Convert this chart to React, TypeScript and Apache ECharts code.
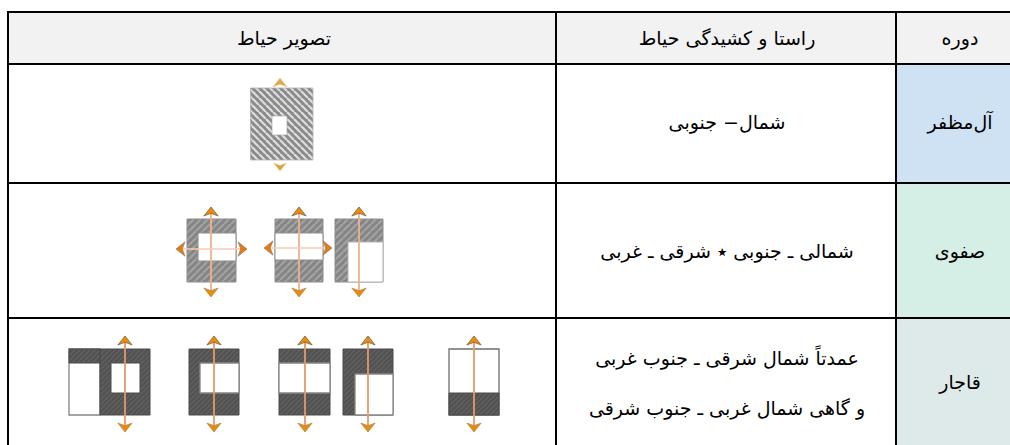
import React, { useEffect, useRef } from "react";
import * as echarts from "echarts";

const headers = ["تصویر حیاط", "راستا و کشیدگی حیاط", "دوره"];
const periods = ["آل‌مظفر", "صفوی", "قاجار"];
const orientations = [
  ["شمال− جنوبی"],
  ["شمالی ـ جنوبی ٭ شرقی ـ غربی"],
  ["عمدتاً شمال شرقی ـ جنوب غربی", "و گاهی شمال غربی ـ جنوب شرقی"],
];
const periodFills = ["#cfe2f3", "#d5eee6", "#deeaea"];

const FONT = '"DejaVu Sans", sans-serif';
const FONT_SIZE = 19;
const colX = [8, 556, 896, 1010];
const rowY = [12, 64, 183, 318, 445];

type Box = [number, number, number, number]; // x0,y0,x1,y1

function tile(base: string, stripe: string, period: number, width: number, flip: boolean) {
  const c = document.createElement("canvas");
  c.width = period;
  c.height = period;
  const g = c.getContext("2d")!;
  g.fillStyle = base;
  g.fillRect(0, 0, period, period);
  g.strokeStyle = stripe;
  g.lineWidth = width;
  for (let k = -1; k <= 1; k++) {
    g.beginPath();
    if (flip) {
      g.moveTo(k * period, 0);
      g.lineTo(k * period + period, period);
    } else {
      g.moveTo(k * period + period, 0);
      g.lineTo(k * period, period);
    }
    g.stroke();
  }
  return { image: c, repeat: "repeat" };
}

function rect(b: Box, fill: any, stroke?: string, lw = 0) {
  return {
    type: "rect",
    shape: { x: b[0], y: b[1], width: b[2] - b[0], height: b[3] - b[1] },
    style: { fill, stroke: stroke || "none", lineWidth: lw },
    silent: true,
  };
}

function head(x: number, y: number, dx: number, dy: number, color: string, edge: string, size: number, w = 0.8) {
  // tip at (x,y), pointing in direction (dx,dy)
  const nx = -dy;
  const ny = dx;
  const half = size * w;
  return {
    type: "polygon",
    shape: {
      points: [
        [x, y],
        [x - dx * size + nx * half, y - dy * size + ny * half],
        [x - dx * size * 0.7, y - dy * size * 0.7],
        [x - dx * size - nx * half, y - dy * size - ny * half],
      ],
    },
    style: { fill: color, stroke: edge, lineWidth: 0.7 },
    silent: true,
  };
}

function shaft(x1: number, y1: number, x2: number, y2: number, color: string, lw: number) {
  return {
    type: "line",
    shape: { x1, y1, x2, y2 },
    style: { stroke: color, lineWidth: lw },
    silent: true,
  };
}

function vArrow(x: number, y1: number, y2: number, shaftColor = "#e5986a") {
  return [
    shaft(x, y1 + 4, x, y2 - 4, shaftColor, 1.8),
    head(x, y1, 0, -1, "#ee8a05", "#5d5a52", 9),
    head(x, y2, 0, 1, "#ee8a05", "#a08a60", 9),
  ];
}

function hArrow(y: number, x1: number, x2: number) {
  return [
    shaft(x1 + 4, y, x2 - 4, y, "#f7cdb0", 1.6),
    head(x1, y, -1, 0, "#ea7a0a", "#8a8078", 9),
    head(x2, y, 1, 0, "#ea7a0a", "#8a8078", 9),
  ];
}

function buildGraphic() {
  const els: any[] = [];
  const add = (...xs: any[]) => els.push(...xs);

  // backgrounds
  add(rect([colX[0], rowY[0], colX[3], rowY[1]], "#f2f2f2"));
  periodFills.forEach((f, i) => add(rect([colX[2], rowY[i + 1], colX[3], rowY[i + 2]], f)));

  // row 1 diagram
  const light = tile("#8a8a8a", "#dedede", 7, 2.2, true);
  add(rect([250.5, 88, 313, 160], light, "#b0b0b0", 0.8));
  add(rect([272, 116, 287, 135], "#ffffff", "#a0a0a0", 0.6));
  add(head(280, 78, 0, -1, "#e0a84a", "#ead6a8", 9));
  add(head(280, 171, 0, 1, "#dfa030", "#ead6a8", 8));

  // row 2
  const mid = tile("#858585", "#a4a4a4", 7, 2, false);
  const GR = "#8c8c8c";
  add(rect([187, 219, 236, 282], mid, GR, 1));
  add(rect([198, 233, 236, 261], "#ffffff", GR, 1));
  add(...vArrow(211, 207, 297, "#f0b18c"), ...hArrow(249, 176, 247));
  add(rect([275, 219, 323, 282], mid, GR, 1));
  add(rect([275, 233, 323, 260], "#ffffff", GR, 1));
  add(...vArrow(299, 207, 297, "#f0b18c"), ...hArrow(248, 264, 332));
  add(rect([335, 219, 383, 282], mid, GR, 1));
  add(rect([348, 242, 383, 282], "#ffffff", "#b5b5b5", 1));
  add(...vArrow(359, 207, 297, "#f0b18c"));

  // row 3
  const dark = tile("#525252", "#656565", 5, 1.2, false);
  const DK = "#4a4a4a";
  const EDGE = "#858585";
  // a
  add(rect([69, 349, 100, 415], "#ffffff", EDGE, 1.3));
  add(rect([69, 349, 100, 363], dark, DK, 1));
  add(rect([100, 349, 150, 415], dark, DK, 1));
  add(rect([111, 363, 140, 393], "#ffffff", DK, 1));
  add(...vArrow(125, 336, 432));
  // b
  add(rect([189, 349, 239, 415], dark, DK, 1));
  add(rect([200, 363, 239, 393], "#ffffff", EDGE, 1.3));
  add(...vArrow(214, 336, 432));
  // c
  add(rect([279, 349, 330, 415], dark, DK, 1));
  add(rect([279, 363, 330, 393], "#ffffff", EDGE, 1.3));
  add(...vArrow(305, 336, 432));
  // d
  add(rect([343, 349, 393, 415], dark, DK, 1));
  add(rect([355, 374, 393, 415], "#ffffff", EDGE, 1.3));
  add(...vArrow(368, 336, 432));
  // e
  add(rect([449, 349, 499, 415], "#ffffff", "#6e6e6e", 1.3));
  add(rect([449, 393, 499, 415], dark, DK, 1));
  add(...vArrow(474, 336, 432));

  // grid lines
  const LINE = "#000000";
  rowY.slice(0, 4).forEach((y) => add(shaft(colX[0] - 1, y, colX[3], y, LINE, 2)));
  colX.slice(0, 3).forEach((x) => add(shaft(x, rowY[0] - 1, x, rowY[4], LINE, 2)));

  // texts
  const text = (x: number, y: number, t: string) => ({
    type: "text",
    x,
    y,
    silent: true,
    style: {
      text: t,
      fill: "#000000",
      font: `${FONT_SIZE}px ${FONT}`,
      align: "center",
      verticalAlign: "middle",
    },
  });
  const colCenters = [284, 727, 960];
  headers.forEach((h, i) => add(text(colCenters[i], 38, h)));
  const rowCenters = [122, 251, 382];
  periods.forEach((p, i) => add(text(colCenters[2], rowCenters[i], p)));
  orientations.forEach((lines, i) => {
    lines.forEach((l, j) => {
      const y = rowCenters[i] + (j - (lines.length - 1) / 2) * 50 + (lines.length > 1 ? 1 : 0);
      add(text(colCenters[1], y, l));
    });
  });
  return els;
}

export default function App() {
  const ref = useRef<HTMLDivElement>(null);
  useEffect(() => {
    const chart = echarts.init(ref.current!, undefined, { renderer: "svg" });
    chart.setOption({ animation: false, backgroundColor: "#ffffff", graphic: { elements: buildGraphic() } });
    return () => chart.dispose();
  }, []);
  return <div ref={ref} style={{ position: "fixed", left: 0, top: 0, width: 1010, height: 445 }} />;
}
